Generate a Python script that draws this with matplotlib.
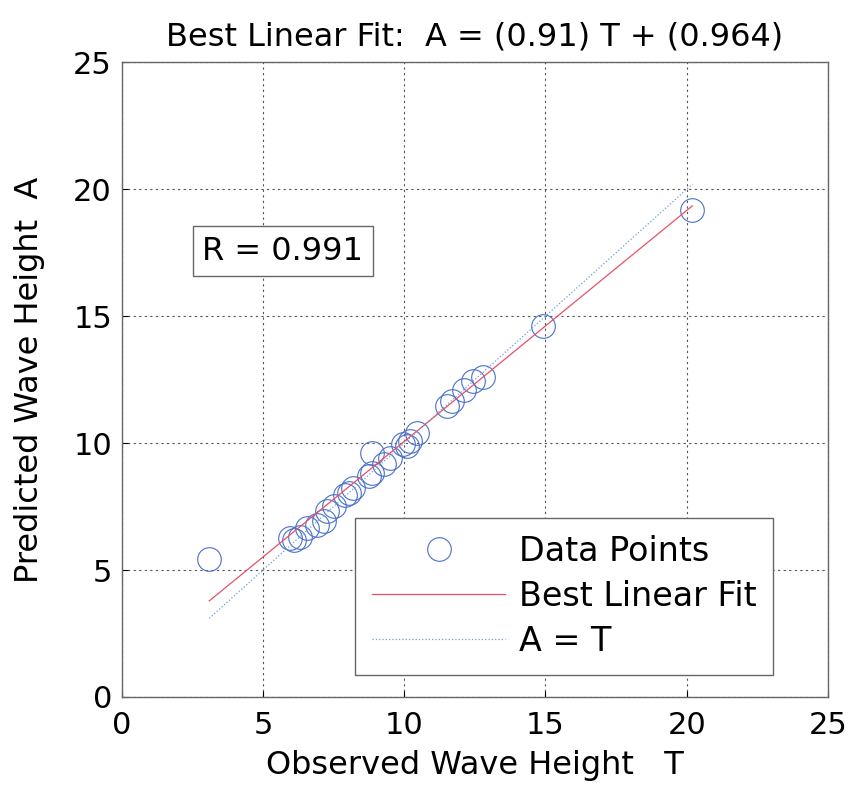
import numpy as np
import matplotlib
matplotlib.use('Agg')
import matplotlib.pyplot as plt

plt.rcParams['font.family'] = ['DejaVu Sans']

# observed (T) and predicted (A) wave heights
observed = [3.1, 5.97, 6.09, 6.32, 6.56, 6.9, 7.15, 7.27, 7.5, 7.9, 8.03, 8.2,
            8.74, 8.86, 8.86, 9.27, 9.5, 9.97, 10.1, 10.2, 10.45, 11.5, 11.7,
            12.1, 12.45, 12.8, 14.9, 20.2]
predicted = [5.45, 6.26, 6.19, 6.32, 6.65, 6.79, 6.92, 7.31, 7.51, 7.97, 8.04, 8.23,
             8.7, 8.83, 9.62, 9.16, 9.42, 9.95, 9.88, 10.08, 10.4, 11.46, 11.66,
             12.1, 12.45, 12.6, 14.62, 19.17]
slope = 0.91
intercept = 0.964
r_value = 0.991

fig = plt.figure(figsize=(8.51, 7.88), dpi=100)
ax = fig.add_axes([0.143, 0.1155, 0.830, 0.8055])

t = np.array([min(observed), max(observed)])
ax.plot(observed, predicted, 'o', markerfacecolor='none', markeredgecolor='#4a70cc',
        markersize=17, markeredgewidth=0.8, label='Data Points')
ax.plot(t, slope * t + intercept, '-', color='#e8506a', linewidth=0.9,
        label='Best Linear Fit')
ax.plot(t, t, ':', color='#6aa0d8', linewidth=0.9, label='A = T')

ax.set_xlim(0, 25)
ax.set_ylim(0, 25)
ax.set_xticks([0, 5, 10, 15, 20, 25])
ax.set_yticks([0, 5, 10, 15, 20, 25])
ax.grid(True, linestyle=(0, (2, 3)), color='#555555', linewidth=0.8)
ax.tick_params(direction='in', labelsize=22, length=4)
ax.tick_params(axis='x', pad=10)
ax.tick_params(axis='y', pad=7)
for s in ax.spines.values():
    s.set_color('#666666')
    s.set_linewidth(1.0)

ax.set_title('Best Linear Fit:  A = (%.2f) T + (%.3f)' % (slope, intercept),
             fontsize=23, pad=12)
ax.set_xlabel('Observed Wave Height   T', fontsize=23)
ax.set_ylabel('Predicted Wave Height  A', fontsize=23)
ax.xaxis.set_label_coords(0.5, -0.083)
ax.yaxis.set_label_coords(-0.152, 0.5)
ax.xaxis.label.set_va('top')
ax.yaxis.label.set_va('top')

ax.text(2.85, 17.55, 'R = %.3f' % r_value, fontsize=23, va='center', ha='left',
        bbox=dict(boxstyle='square,pad=0.3', facecolor='white', edgecolor='#666666',
                  linewidth=1.0))

leg = ax.legend(loc='lower right', bbox_to_anchor=(0.922, 0.035), fontsize=24,
                fancybox=False, framealpha=1, edgecolor='#666666',
                borderpad=0.5, handlelength=4.0, handletextpad=0.4,
                labelspacing=0.36, borderaxespad=0)
leg.get_frame().set_linewidth(1.0)

fig.savefig('out.png', dpi=100)
